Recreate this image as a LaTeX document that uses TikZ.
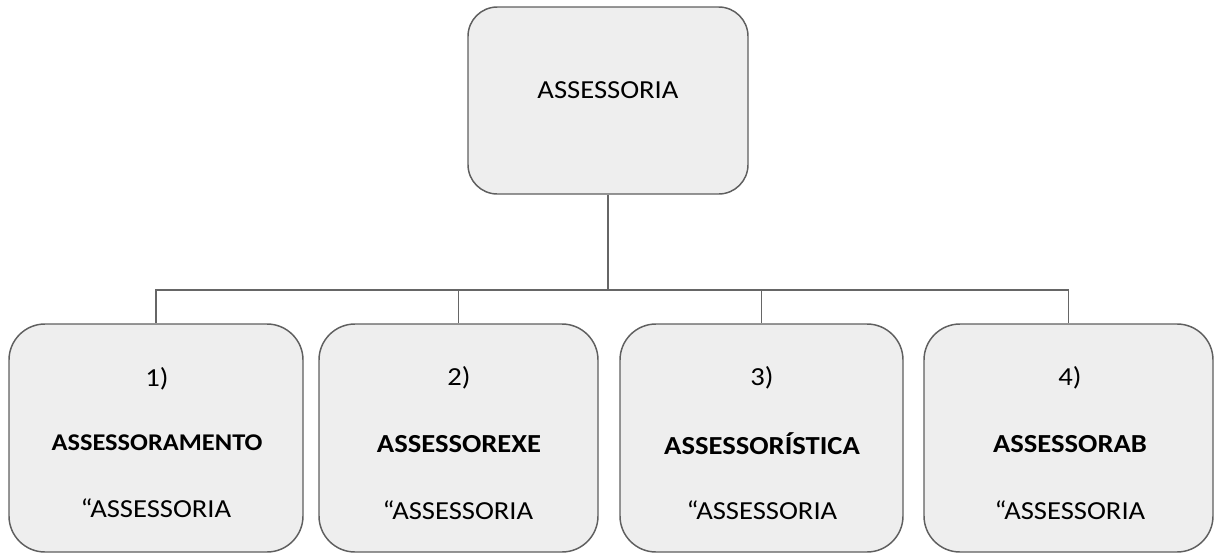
\documentclass[tikz,border=0pt]{standalone}
\usepackage{fontspec}
\setmainfont{Carlito}[FakeStretch=1.1]
\definecolor{boxfill}{HTML}{EEEEEE}
\definecolor{boxline}{HTML}{5F5F5F}
\definecolor{connline}{HTML}{666666}
\begin{document}
\begin{tikzpicture}[x=0.75pt,y=-0.75pt,
  box/.style={draw=boxline, fill=boxfill, line width=1.1pt, rounded corners=27pt, inner sep=0pt, minimum height=171pt},
  topbox/.style={box, rounded corners=22pt, minimum width=210pt, minimum height=140.25pt},
  conn/.style={draw=connline, line width=1pt},
  txt/.style={font=\fontsize{19.5}{22}\selectfont, inner sep=0pt},
  btxt/.style={font=\fontsize{19.5}{22}\selectfont\bfseries, inner sep=0pt}]
\useasboundingbox (0,0) rectangle (1214,553);
% boxes
\node[topbox] (top) at (608,100.5) {};
\node[box, minimum width=220.5pt] (b1) at (156,438) {};
\node[box, minimum width=209.25pt] (b2) at (458.5,438) {};
\node[box, minimum width=212.25pt] (b3) at (761.5,438) {};
\node[box, minimum width=216.75pt] (b4) at (1068.5,438) {};
% connectors
\coordinate (bus) at (608,290);
\draw[conn] (top.south) -- (bus);
\draw[conn] (bus) -| (b1.north);
\draw[conn] (bus) -| (b2.north);
\draw[conn] (bus) -| (b3.north);
\draw[conn] (bus) -| (b4.north);
% texts
\node[txt] (toptxt) at (608,90) {ASSESSORIA};
\node[txt] (n1) at (157,379) {1)};
\node[btxt, font=\fontsize{18}{20}\selectfont\bfseries] (t1) at (157,443) {ASSESSORAMENTO};
\node[txt] (q1) at (156,508) {“ASSESSORIA};
\node[txt] (n2) at (459,378) {2)};
\node[btxt] (t2) at (459,444) {ASSESSOREXE};
\node[txt] (q2) at (458,510) {“ASSESSORIA};
\node[txt] (n3) at (762,378) {3)};
\node[btxt] (t3) at (762,444) {ASSESSORÍSTICA};
\node[txt] (q3) at (762,510) {“ASSESSORIA};
\node[txt] (n4) at (1070,378) {4)};
\node[btxt] (t4) at (1070,444) {ASSESSORAB};
\node[txt] (q4) at (1070,510) {“ASSESSORIA};
\end{tikzpicture}
\end{document}
